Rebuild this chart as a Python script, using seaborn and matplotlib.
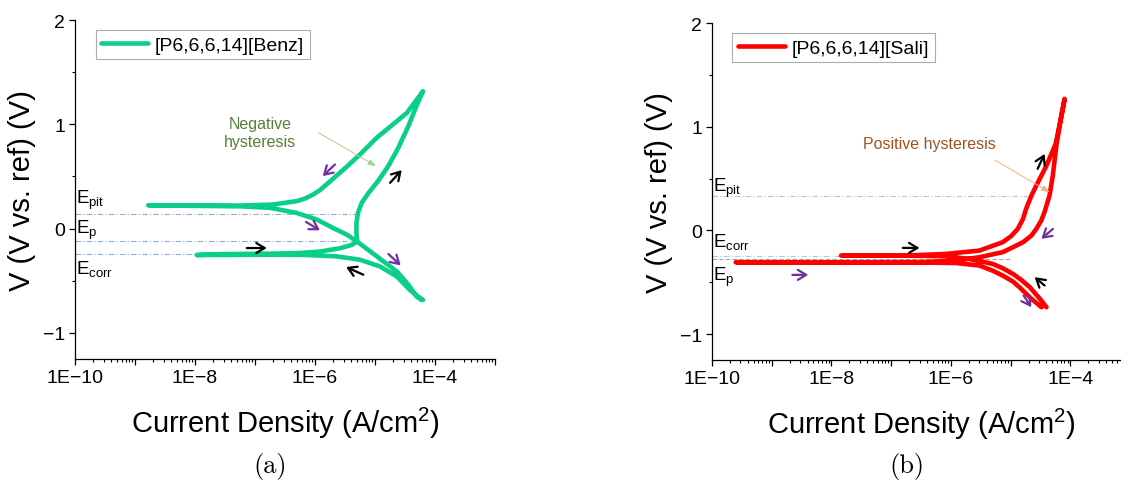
import numpy as np
import pandas as pd
import matplotlib
matplotlib.use("Agg")
import matplotlib.pyplot as plt
import seaborn as sns
from matplotlib.ticker import LogLocator, MultipleLocator, FuncFormatter, NullFormatter

sns.set_theme(style="ticks")
plt.rcParams["font.family"] = ["Liberation Sans", "DejaVu Sans"]
plt.rcParams["mathtext.default"] = "regular"
for k in ["text.color", "axes.labelcolor", "xtick.color", "ytick.color", "axes.edgecolor"]:
    plt.rcParams[k] = "black"

# (a) [P6,6,6,14][Benz] - scan path in order: current density (A/cm2), potential (V)
benz_i = [6.3e-5, 4.9e-5, 3.8e-5, 2.3e-5, 1.2e-5, 5.6e-6, 2.3e-6, 6.5e-7, 1.8e-7, 4.0e-8, 1.07e-8,
          2.6e-8, 1.8e-7, 5.6e-7, 1.2e-6, 2.6e-6, 4.1e-6, 5.0e-6, 4.9e-6, 4.9e-6, 5.2e-6, 6.0e-6,
          7.8e-6, 1.12e-5, 1.66e-5, 2.45e-5, 3.6e-5, 4.9e-5, 6.3e-5,
          3.4e-5, 2.0e-5, 1.07e-5, 5.6e-6, 3.0e-6, 1.55e-6, 1.2e-6, 9.3e-7, 6.8e-7, 4.9e-7, 2.0e-7,
          5.6e-8, 1.0e-8, 1.66e-9,
          1.0e-8, 5.6e-8, 1.8e-7, 4.9e-7, 1.07e-6, 2.0e-6, 3.4e-6, 5.2e-6, 8.3e-6, 1.38e-5, 2.3e-5,
          3.6e-5, 4.9e-5, 5.9e-5]
benz_v = [-0.683, -0.64, -0.587, -0.458, -0.362, -0.298, -0.266, -0.252, -0.251, -0.252, -0.253,
          -0.245, -0.240, -0.234, -0.220, -0.188, -0.156, -0.122, -0.042, 0.055, 0.151, 0.247,
          0.343, 0.455, 0.599, 0.776, 0.984, 1.176, 1.317,
          1.11, 1.00, 0.872, 0.71, 0.567, 0.423, 0.368, 0.327, 0.288, 0.263, 0.231,
          0.221, 0.222, 0.224,
          0.218, 0.214, 0.199, 0.151, 0.087, 0.006, -0.058, -0.131, -0.218, -0.314, -0.41,
          -0.538, -0.65, -0.683]

# (b) [P6,6,6,14][Sali]
sali_i = [4.0e-5, 3.1e-5, 2.1e-5, 1.51e-5, 1.1e-5, 7.4e-6, 5.0e-6, 2.0e-6, 8.3e-7, 1.4e-7, 1.45e-8,
          6.5e-8, 2.3e-7, 8.3e-7, 3.0e-6, 7.4e-6, 1.02e-5, 1.32e-5, 1.62e-5, 1.82e-5, 2.24e-5, 2.7e-5,
          4.0e-5, 5.7e-5, 6.8e-5, 8.05e-5,
          6.8e-5, 5.9e-5, 5.1e-5, 4.5e-5, 3.7e-5, 3.27e-5, 2.7e-5, 2.24e-5, 1.62e-5, 1.1e-5, 7.4e-6,
          3.0e-6, 1.23e-6, 3.4e-7, 3.2e-8, 3.2e-9, 2.5e-10,
          3.2e-9, 3.2e-8, 3.4e-7, 1.23e-6, 3.0e-6, 5.0e-6, 7.4e-6, 1.1e-5, 1.41e-5, 2.24e-5, 3.3e-5]
sali_v = [-0.741, -0.66, -0.548, -0.477, -0.42, -0.365, -0.323, -0.275, -0.249, -0.243, -0.243,
          -0.241, -0.240, -0.227, -0.195, -0.114, -0.056, 0.014, 0.111, 0.207, 0.336, 0.432,
          0.625, 0.834, 1.05, 1.268,
          1.04, 0.834, 0.528, 0.336, 0.175, 0.095, 0.014, -0.05, -0.114, -0.162, -0.21,
          -0.259, -0.291, -0.305, -0.307, -0.307, -0.307,
          -0.309, -0.309, -0.31, -0.315, -0.339, -0.388, -0.436, -0.494, -0.548, -0.66, -0.741]

# characteristic potentials (V) and where their guide lines stop (A/cm2)
benz_e = {"pit": 0.144, "p": -0.122, "corr": -0.24}
benz_e_end = {"pit": 5.2e-6, "p": 5.2e-6, "corr": 1.1e-8}
sali_e = {"pit": 0.336, "corr": -0.249, "p": -0.28}
sali_e_end = {"pit": 2.24e-5, "corr": 1.45e-8, "p": 1.0e-5}

# label text anchors (baseline potential)
benz_lab = {"pit": 0.25, "p": -0.041, "corr": -0.426}
sali_lab = {"pit": 0.384, "corr": -0.152, "p": -0.474}

# scan direction arrows: (tail, head)
benz_fwd = [((7.28e-8, -0.186), (1.57e-7, -0.186)),
            ((6.38e-6, -0.442), (3.29e-6, -0.368)),
            ((1.78e-5, 0.439), (2.79e-5, 0.561))]
benz_rev = [((2.15e-6, 0.615), (1.34e-6, 0.503)),
            ((7.08e-7, 0.064), (1.21e-6, -0.016)),
            ((1.67e-5, -0.243), (2.68e-5, -0.353))]
sali_fwd = [((1.57e-7, -0.169), (2.99e-7, -0.169)),
            ((2.84e-5, 0.593), (3.72e-5, 0.738)),
            ((3.72e-5, -0.532), (2.53e-5, -0.451))]
sali_rev = [((5.13e-5, 0.014), (3.27e-5, -0.082)),
            ((1.66e-5, -0.629), (2.23e-5, -0.741)),
            ((2.22e-9, -0.429), (4.11e-9, -0.429))]

GREEN = "#0ACF8A"
RED = "#FF0000"
PURPLE = "#7030A0"


def fmt_x(val, pos):
    e = int(round(np.log10(val)))
    if e % 2 == 0:
        return "1E\u2212%d" % abs(e)
    return ""


def panel(ax, cur, pot, color, label, e_vals, e_end, e_lab, fwd, rev):
    df = pd.DataFrame({"i": cur, "V": pot})
    sns.lineplot(data=df, x="i", y="V", sort=False, estimator=None, ax=ax,
                 color=color, lw=3.3, label=label, solid_capstyle="round", solid_joinstyle="round")
    ax.set_xscale("log")
    ax.set_xlim(1e-10, 1e-3)
    ax.set_ylim(-1.25, 2)

    for k, v in e_vals.items():
        if k == "p" and color == RED:
            ax.plot([1e-10, e_end[k]], [v, v], color="#A6A6A6", lw=0.8, ls=(0, (4, 2)), zorder=1)
        else:
            c = "#8FAADC" if color == GREEN else "#B4C7E7"
            ax.plot([1e-10, e_end[k]], [v, v], color=c, lw=0.8, ls=(0, (5, 2, 1, 2)), zorder=1)
        ax.text(1.03e-10, e_lab[k], "E$_{%s}$" % k, fontsize=13.5, ha="left", va="baseline")

    astyle = "->,head_length=0.5,head_width=0.3"
    for t, h in fwd:
        ax.annotate("", xy=h, xytext=t,
                    arrowprops=dict(arrowstyle=astyle, color="black", lw=1.6, shrinkA=0, shrinkB=0))
    for t, h in rev:
        ax.annotate("", xy=h, xytext=t,
                    arrowprops=dict(arrowstyle=astyle, color=PURPLE, lw=1.6, shrinkA=0, shrinkB=0))

    ax.xaxis.set_major_locator(LogLocator(base=10, numticks=20))
    ax.xaxis.set_minor_locator(LogLocator(base=10, subs=np.arange(2, 10), numticks=20))
    ax.xaxis.set_major_formatter(FuncFormatter(fmt_x))
    ax.xaxis.set_minor_formatter(NullFormatter())
    ax.yaxis.set_major_locator(MultipleLocator(1))
    ax.yaxis.set_minor_locator(MultipleLocator(0.5))
    ax.tick_params(which="major", direction="out", length=4, width=0.9, labelsize=14, pad=3)
    ax.tick_params(which="minor", direction="out", length=2.5, width=0.8)
    for s in ["top", "right"]:
        ax.spines[s].set_visible(False)
    for s in ["left", "bottom"]:
        ax.spines[s].set_linewidth(0.9)

    ax.set_xlabel("Current Density (A/cm$^{2}$)", fontsize=21)
    ax.set_ylabel("V (V vs. ref) (V)", fontsize=21)
    ax.xaxis.set_label_coords(0.5, -0.135)
    ax.yaxis.set_label_coords(-0.092, 0.5)

    leg = ax.legend(loc="upper left", bbox_to_anchor=(0.049, 0.97), borderaxespad=0,
                    fontsize=14, frameon=True, fancybox=False, handlelength=2.4,
                    handletextpad=0.35, borderpad=0.3)
    leg.get_frame().set_edgecolor("#999999")
    leg.get_frame().set_linewidth(0.8)


fig = plt.figure(figsize=(11.21, 4.85), dpi=100)
ax1 = fig.add_axes([0.0669, 0.2577, 0.3747, 0.6990])
ax2 = fig.add_axes([0.6351, 0.2557, 0.3729, 0.6948])

panel(ax1, benz_i, benz_v, GREEN, "[P6,6,6,14][Benz]", benz_e, benz_e_end, benz_lab, benz_fwd, benz_rev)
panel(ax2, sali_i, sali_v, RED, "[P6,6,6,14][Sali]", sali_e, sali_e_end, sali_lab, sali_fwd, sali_rev)

# hysteresis notes
ax1.text(1.21e-7, 0.923, "Negative\nhysteresis", color="#548235", fontsize=11.5,
         ha="center", va="center", linespacing=1.2)
ax1.annotate("", xy=(1.04e-5, 0.599), xytext=(1.14e-6, 0.92),
             arrowprops=dict(arrowstyle="-|>,head_length=0.4,head_width=0.15", color="#A9D18E",
                             lw=0.7, shrinkA=0, shrinkB=0))
ax2.text(5.6e-6, 0.834, "Positive hysteresis", color="#9C5424", fontsize=11.5,
         ha="right", va="center")
ax2.annotate("", xy=(4.52e-5, 0.368), xytext=(5.41e-6, 0.68),
             arrowprops=dict(arrowstyle="-|>,head_length=0.4,head_width=0.15", color="#F4B183",
                             lw=0.7, shrinkA=0, shrinkB=0))

fig.text(270 / 1121, 1 - 467 / 485, "(a)", family="cmr10", fontsize=19, ha="center", va="center")
fig.text(907 / 1121, 1 - 467 / 485, "(b)", family="cmr10", fontsize=19, ha="center", va="center")

fig.savefig("out.png", dpi=100)
